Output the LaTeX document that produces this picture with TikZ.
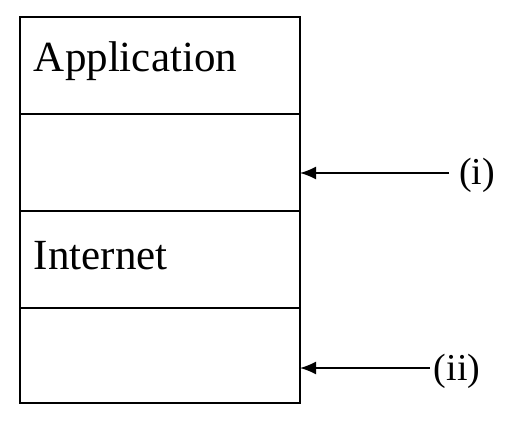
\documentclass[tikz,border=0pt]{standalone}
\usepackage{fontspec}
\setmainfont{Liberation Serif}
\usetikzlibrary{calc,positioning,arrows.meta}

\begin{document}
\begin{tikzpicture}[x=1pt,y=1pt,black,line width=1.3pt,
		layertext/.style={anchor=west,font=\fontsize{43}{46}\selectfont},
		pointer/.style={-{Latex[length=16pt,width=13pt]},line width=1.6pt},
		marker/.style={font=\fontsize{38}{42}\selectfont}]
				\useasboundingbox (0, 0) rectangle (510, 429);
				% Points
				\coordinate (TL) at (20, 412);
				\coordinate (TR) at (300, 412);
				\coordinate (BR) at (300, 26);
				\coordinate (BL) at (20, 26);

				\coordinate (AL) at ($(TL) + (0, -97)$);
				\coordinate (AR) at ($(TR) + (0, -97)$);
				\coordinate (BLL) at ($(TL) + (0, -194)$);
				\coordinate (BRR) at ($(TR) + (0, -194)$);
				\coordinate (CL) at ($(TL) + (0, -291)$);
				\coordinate (CR) at ($(TR) + (0, -291)$);

				\coordinate (PI) at (300, 256);
				\coordinate (PII) at (300, 61);

				% Stack
				\draw (TL) -- (TR) -- (BR) -- (BL) -- cycle;
				\draw
					(AL) -- (AR)
					(BLL) -- (BRR)
					(CL) -- (CR)
					;

				% Layer names
				\node[layertext] (application) at ($(TL)!0.5!(AL) + (10, 4)$) {Application};
				\node[layertext] (internet) at ($(BLL)!0.5!(CL) + (10, 4)$) {Internet};

				% Pointers
				\node[marker] (one) at (477, 254) {(i)};
				\node[marker] (two) at (457, 58) {(ii)};
				\draw[pointer] (one.west) ++(-6, 2) -- (PI);
				\draw[pointer] (two.west) ++(0, 3) -- (PII);
			\end{tikzpicture}
\end{document}
